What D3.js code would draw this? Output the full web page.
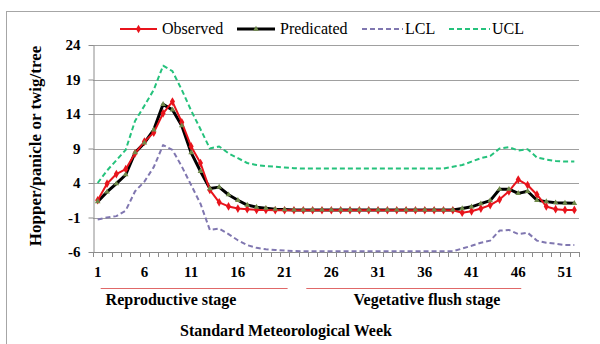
<!DOCTYPE html>
<html>
<head>
<meta charset="utf-8">
<script src="https://cdn.jsdelivr.net/npm/d3@7"></script>
<style>
  body { margin: 0; background: #fff; }
  svg { display: block; font-family: "Liberation Serif", "Times New Roman", serif; }
</style>
</head>
<body>
<div id="chart"></div>
<script>
const weeks = d3.range(1, 53);
const yTicks = [-6, -1, 4, 9, 14, 19, 24];
const xTickLabels = [1, 6, 11, 16, 21, 26, 31, 36, 41, 46, 51];

const observed = [1.5, 3.9, 5.3, 6.0, 8.3, 10.0, 11.3, 14.1, 15.8, 12.8, 9.3, 6.9, 3.0,
  1.2, 0.6, 0.3, 0.2, 0.1, 0.1, 0.05, 0.05, 0.05, 0.05, 0.05, 0.05, 0.05,
  0.05, 0.05, 0.05, 0.05, 0.05, 0.05, 0.05, 0.05, 0.05, 0.05, 0.05, 0.05, 0.05,
  -0.3, -0.1, 0.3, 0.8, 1.6, 2.8, 4.5, 3.7, 2.3, 0.6, 0.2, 0.1, 0.1];
const predicated = [1.3, 2.7, 3.9, 5.2, 8.4, 9.8, 11.7, 15.4, 14.6, 12.3, 8.4, 5.7, 3.2,
  3.4, 2.3, 1.5, 0.8, 0.5, 0.35, 0.2, 0.15, 0.1, 0.1, 0.1, 0.1, 0.1,
  0.1, 0.1, 0.1, 0.1, 0.1, 0.1, 0.1, 0.1, 0.1, 0.1, 0.1, 0.1, 0.1,
  0.3, 0.55, 1.0, 1.45, 3.1, 3.1, 2.5, 2.8, 1.5, 1.3, 1.15, 1.1, 1.05];
const lcl = [-1.3, -1.0, -0.8, 0.0, 2.8, 4.2, 6.3, 9.5, 8.8, 6.4, 3.7, 1.0, -2.8,
  -2.6, -3.4, -4.3, -5.0, -5.4, -5.6, -5.7, -5.8, -5.85, -5.9, -5.9, -5.9, -5.9,
  -5.9, -5.9, -5.9, -5.9, -5.9, -5.9, -5.9, -5.9, -5.9, -5.9, -5.9, -5.9, -5.9,
  -5.5, -5.1, -4.65, -4.35, -2.9, -2.8, -3.4, -3.2, -4.35, -4.65, -4.8, -5.0, -5.0];
const ucl = [4.0, 5.8, 7.3, 8.8, 13.0, 15.2, 17.5, 21.0, 20.2, 17.5, 14.5, 11.8, 9.0,
  9.3, 8.3, 7.6, 6.9, 6.6, 6.45, 6.35, 6.25, 6.15, 6.1, 6.1, 6.1, 6.1,
  6.1, 6.1, 6.1, 6.1, 6.1, 6.1, 6.1, 6.1, 6.1, 6.1, 6.1, 6.1, 6.35,
  6.6, 7.1, 7.6, 7.9, 9.0, 9.2, 8.7, 8.9, 7.7, 7.4, 7.2, 7.1, 7.1];

const stages = [
  { name: 'Reproductive stage', from: 1, to: 21 },
  { name: 'Vegetative flush stage', from: 23, to: 46 }
];

const series = [
  { name: 'Observed', values: observed, color: '#e8141c', width: 2, dash: null, marker: 'diamond' },
  { name: 'Predicated', values: predicated, color: '#000', width: 3, dash: null, marker: 'triangle' },
  { name: 'LCL', values: lcl, color: '#8077b0', width: 2, dash: '5,3', marker: null },
  { name: 'UCL', values: ucl, color: '#25c27c', width: 2, dash: '5,3', marker: null }
];

const fullWidth = 600;
const fullHeight = 344;
const plot = { left: 93, right: 579, top: 45, bottom: 252 };

const svg = d3.select('#chart')
  .append('svg')
  .attr('width', fullWidth)
  .attr('height', fullHeight);

// outer frame
svg.append('rect')
  .attr('x', 6.5).attr('y', 11.5)
  .attr('width', 700).attr('height', 400)
  .attr('fill', 'none')
  .attr('stroke', '#a6a6a6');

const xScale = d3.scaleBand()
  .domain(weeks)
  .range([plot.left, plot.right]);
const xPos = w => xScale(w) + xScale.bandwidth() / 2;

const yScale = d3.scaleLinear()
  .domain([-6, 24])
  .range([plot.bottom, plot.top]);

// gridlines
svg.append('g')
  .selectAll('line')
  .data(yTicks.filter(t => t > -6))
  .enter()
  .append('line')
  .attr('x1', plot.left).attr('x2', plot.right)
  .attr('y1', d => Math.round(yScale(d)) + 0.5)
  .attr('y2', d => Math.round(yScale(d)) + 0.5)
  .attr('stroke', '#a0a0a0');

// y axis
const yAxis = d3.axisLeft(yScale)
  .tickValues(yTicks)
  .tickFormat(d => String(d))
  .tickSize(5)
  .tickPadding(8)
  .tickSizeOuter(0);

svg.append('g')
  .attr('id', 'y-axis')
  .attr('transform', `translate(${plot.left + 0.5}, 0)`)
  .call(yAxis)
  .call(g => g.select('.domain').attr('stroke', '#8c8c8c'))
  .call(g => g.selectAll('.tick line').attr('stroke', '#8c8c8c'))
  .call(g => g.selectAll('.tick text')
    .attr('font-family', '"Liberation Serif", serif')
    .attr('font-size', 15)
    .attr('font-weight', 'bold')
    .attr('fill', '#000'));

// x axis: minor ticks at category boundaries
svg.append('line')
  .attr('x1', plot.left).attr('x2', plot.right)
  .attr('y1', plot.bottom + 0.5).attr('y2', plot.bottom + 0.5)
  .attr('stroke', '#8c8c8c');

svg.append('g')
  .selectAll('line')
  .data(weeks.concat([53]))
  .enter()
  .append('line')
  .attr('x1', d => Math.round(d === 53 ? plot.right : xScale(d)) + 0.5)
  .attr('x2', d => Math.round(d === 53 ? plot.right : xScale(d)) + 0.5)
  .attr('y1', plot.bottom)
  .attr('y2', plot.bottom + 5)
  .attr('stroke', '#8c8c8c');

svg.append('g')
  .selectAll('text')
  .data(xTickLabels)
  .enter()
  .append('text')
  .attr('x', d => xPos(d))
  .attr('y', plot.bottom + 25)
  .attr('text-anchor', 'middle')
  .attr('font-size', 15)
  .attr('font-weight', 'bold')
  .text(d => d);

// lines
const line = d3.line()
  .x((d, i) => xPos(weeks[i]))
  .y(d => yScale(d));

series.slice().reverse().forEach(s => {
  svg.append('path')
    .datum(s.values)
    .attr('d', line)
    .attr('fill', 'none')
    .attr('stroke', s.color)
    .attr('stroke-width', s.width)
    .attr('stroke-dasharray', s.dash)
    .attr('stroke-linejoin', 'round');
});

const diamond = d3.symbol().type(d3.symbolDiamond).size(22);
const triangle = d3.symbol().type(d3.symbolTriangle).size(14);

function drawMarkers(s) {
  svg.append('g')
    .selectAll('path')
    .data(s.values)
    .enter()
    .append('path')
    .attr('transform', (d, i) => `translate(${xPos(weeks[i])}, ${yScale(d)})`)
    .attr('d', s.marker === 'diamond' ? diamond : triangle)
    .attr('fill', s.marker === 'diamond' ? '#e8141c' : '#6f8a4a');
}
drawMarkers(series[0]);
drawMarkers(series[1]);

// legend
const legendItems = [
  { x1: 120, x2: 157, tx: 162 },
  { x1: 237, x2: 275, tx: 280 },
  { x1: 362, x2: 403, tx: 405 },
  { x1: 449, x2: 490, tx: 492 }
];
const legend = svg.append('g').attr('id', 'legend');
series.forEach((s, i) => {
  const it = legendItems[i];
  legend.append('line')
    .attr('x1', it.x1).attr('x2', it.x2)
    .attr('y1', 29).attr('y2', 29)
    .attr('stroke', s.color)
    .attr('stroke-width', s.width)
    .attr('stroke-dasharray', s.dash);
  if (s.marker) {
    legend.append('path')
      .attr('transform', `translate(${(it.x1 + it.x2) / 2}, 29)`)
      .attr('d', s.marker === 'diamond' ? diamond : triangle)
      .attr('fill', s.marker === 'diamond' ? '#e8141c' : '#6f8a4a');
  }
  legend.append('text')
    .attr('x', it.tx)
    .attr('y', 34)
    .attr('font-size', 16)
    .text(s.name);
});

// stage bars
stages.forEach(st => {
  svg.append('line')
    .attr('x1', xPos(st.from) + 3).attr('x2', xPos(st.to) + 3)
    .attr('y1', 288.5).attr('y2', 288.5)
    .attr('stroke', '#e06868');
});
svg.append('text')
  .attr('x', 171).attr('y', 305)
  .attr('text-anchor', 'middle')
  .attr('font-size', 16).attr('font-weight', 'bold')
  .text(stages[0].name);
svg.append('text')
  .attr('x', 427).attr('y', 305)
  .attr('text-anchor', 'middle')
  .attr('font-size', 16).attr('font-weight', 'bold')
  .text(stages[1].name);

// axis titles
svg.append('text')
  .attr('x', 286).attr('y', 336)
  .attr('text-anchor', 'middle')
  .attr('font-size', 16).attr('font-weight', 'bold')
  .text('Standard Meteorological Week');

svg.append('text')
  .attr('transform', 'translate(41, 146) rotate(-90)')
  .attr('text-anchor', 'middle')
  .attr('font-size', 17).attr('font-weight', 'bold')
  .text('Hopper/panicle or twig/tree');
</script>
</body>
</html>
